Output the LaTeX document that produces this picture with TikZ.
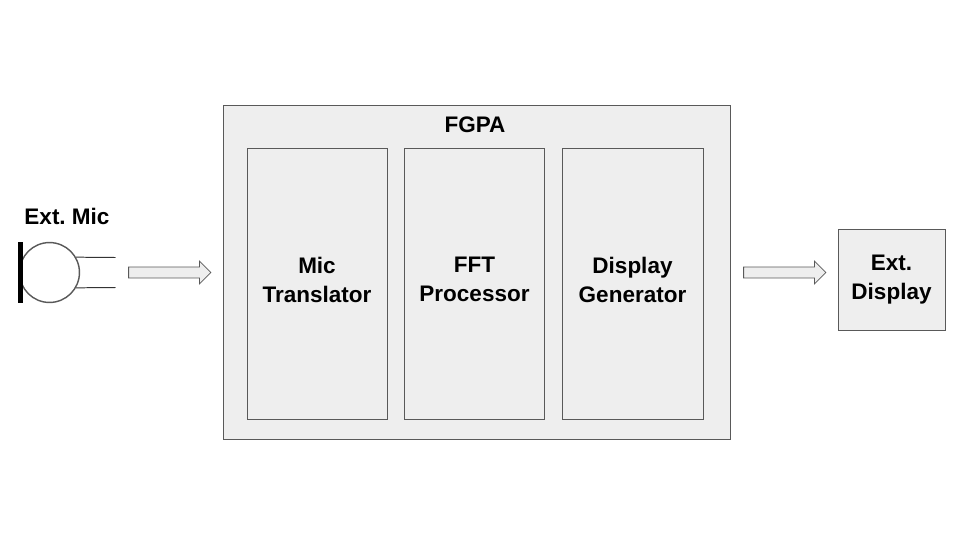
\documentclass[tikz,border=0pt]{standalone}
\usepackage{fontspec}
\setmainfont{Liberation Sans}
\usetikzlibrary{shapes.arrows}
\definecolor{boxfill}{HTML}{EEEEEE}
\definecolor{boxline}{HTML}{595959}
\tikzset{
	block/.style={draw=boxline, fill=boxfill, line width=0.6pt, inner sep=0pt},
	title/.style={font=\fontsize{16}{20.6}\selectfont\bfseries\frenchspacing, align=center, inner sep=0pt, text=black},
	raised/.style={text depth=5.8pt},
	flow/.style={single arrow, draw=boxline, fill=boxfill, line width=0.6pt, inner sep=3.6pt,
		minimum width=15.6pt, minimum height=58.5pt, single arrow head extend=4.2pt,
		single arrow tip angle=90, single arrow head indent=0pt},
	lead/.style={line width=0.7pt, color=black!80}
}
\begin{document}
\begin{tikzpicture}[x=0.025cm, y=-0.025cm]
		%%%%% START %%%%%
		\useasboundingbox (0, 0) rectangle (960, 540);
		
		\node[block, minimum width=360.5pt, minimum height=237.5pt] (fpga) at (476.5, 272) {};
		\node[title] (fpgaTitle) at (475, 124.5) {FGPA};
		
		\node[block, minimum width=99.6pt, minimum height=192.7pt, title, raised] (translator) at (317, 283.5) {Mic\\Translator};
		\node[block, minimum width=99.6pt, minimum height=192.7pt, title, raised] (processor) at (474.5, 283.5) {FFT\\Processor};
		\node[block, minimum width=100.2pt, minimum height=192.7pt, title, raised] (generator) at (632.5, 283.5) {Display\\Generator};
		
		\node[block, minimum width=76pt, minimum height=71.8pt, title] (display) at (891.5, 279.5) {Ext.\\Display};
		
		\node[title] (micTitle) at (67, 216) {Ext. Mic};
		\node[circle, draw=boxline, line width=1pt, minimum size=42.6pt, inner sep=0pt] (mic) at (49.5, 272.5) {};
		\draw[line width=3.5pt] (20.5, 242) -- (20.5, 303);
		
		\coordinate (micTop) at (115.5, 257.5);
		\coordinate (micBottom) at (115.5, 287.5);
		\draw[lead] (mic.30) -- (micTop);
		\draw[lead] (mic.-30) -- (micBottom);
		
		\node[flow] (micArrow) at (167, 272.5) {};
		\node[flow] (displayArrow) at (782, 272.5) {};
		
		%%%%% END %%%%%
	\end{tikzpicture}
\end{document}
